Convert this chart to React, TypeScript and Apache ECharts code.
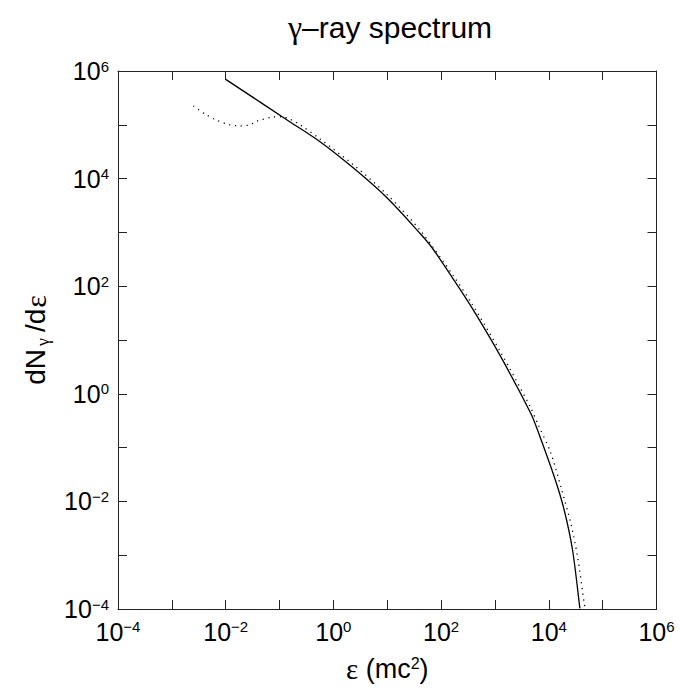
import React, { useEffect, useRef } from "react";
import * as echarts from "echarts";

// Photon energy (mc^2) and spectrum values
const solidX = [0.01, 0.138, 0.573, 2.39, 9.98, 41.6, 68.5, 173, 380, 1280, 4620, 6170, 12900, 19300, 27600, 37800, 38000];
const solidY = [7.0e5, 1.23e5, 4.79e4, 1.55e4, 4.36e3, 933, 513, 130, 38.6, 4.9, 0.435, 0.212, 0.0269, 6.92e-3, 1.25e-3, 1.03e-4, 1.0e-4];

const dottedX = [2.51e-3, 4.17e-3, 6.65e-3, 0.0112, 0.0182, 0.0282, 0.038, 0.0708, 0.111, 0.158, 0.243, 0.573, 2.39, 9.98, 41.6, 173, 380, 1280, 4620, 6170, 10900, 16700, 25600, 34200, 45400, 47800];
const dottedY = [2.24e5, 1.58e5, 1.23e5, 1.02e5, 9.55e4, 1.0e5, 1.17e5, 1.38e5, 1.41e5, 1.26e5, 1.0e5, 5.37e4, 1.78e4, 5.01e3, 1.07e3, 151, 45.7, 5.89, 0.55, 0.283, 0.0794, 0.0187, 3.92e-3, 9.38e-4, 1.28e-4, 1.0e-4];

const labeledExponents = [-4, -2, 0, 2, 4, 6];
const axisMin = 1e-4;
const axisMax = 1e6;

const SANS = "Liberation Sans, Arial, Helvetica, sans-serif";
const SERIF = "Liberation Serif, Times New Roman, serif";

function expLabel(v: number): string {
  const e = Math.round(Math.log10(v));
  if (!labeledExponents.includes(e)) return "";
  const s = e < 0 ? "\u2212" + Math.abs(e) : String(e);
  return "{b|10}{s|" + s + "}";
}

const labelRich = {
  b: { fontSize: 25, fontFamily: SANS, color: "#000" },
  s: { fontSize: 15, fontFamily: SANS, color: "#000", padding: [0, 0, 10, 0] },
};

export default function App() {
  const ref = useRef<HTMLDivElement>(null);
  useEffect(() => {
    if (!ref.current) return;
    const chart = echarts.init(ref.current, undefined, { renderer: "svg" });
    const axisLine = { show: true, lineStyle: { color: "#222", width: 1 } };
    const axisTick = { show: true, inside: true, length: 9, lineStyle: { color: "#222", width: 1 } };
    const baseAxis = {
      type: "log" as const,
      logBase: 10,
      min: axisMin,
      max: axisMax,
      interval: 1,
      splitNumber: 10,
      splitLine: { show: false },
      axisLine,
      axisTick,
    };
    chart.setOption({
      animation: false,
      backgroundColor: "#fff",
      title: {
        text: "{g|\u03b3}{t|\u2013ray spectrum}",
        left: 385,
        top: 6,
        textAlign: "center",
        textStyle: {
          fontWeight: "normal",
          rich: {
            g: { fontSize: 32, fontFamily: SERIF, fontWeight: "normal", color: "#000" },
            t: { fontSize: 30, fontFamily: SANS, fontWeight: "normal", color: "#000" },
          },
        },
      },
      grid: { left: 118, top: 71, width: 538.5, height: 538, containLabel: false },
      xAxis: [
        {
          ...baseAxis,
          position: "bottom",
          name: "{e|\u03b5}{a| (mc}{s|2}{a|)}",
          nameLocation: "middle",
          nameGap: 45,
          nameTextStyle: {
            rich: {
              e: { fontSize: 29, fontFamily: SERIF, color: "#000" },
              a: { fontSize: 27, fontFamily: SANS, color: "#000" },
              s: { fontSize: 16, fontFamily: SANS, color: "#000", padding: [0, 0, 11, 0] },
            },
          },
          axisLabel: { show: true, margin: 10, formatter: expLabel, rich: labelRich },
        },
        {
          ...baseAxis,
          position: "top",
          axisLabel: { show: false },
        },
      ],
      yAxis: [
        {
          ...baseAxis,
          position: "left",
          name: "{a|dN}{g|\u03b3}{a|/d}{e|\u03b5}",
          nameLocation: "middle",
          nameGap: 66,
          nameRotate: 90,
          nameTextStyle: {
            rich: {
              a: { fontSize: 28, fontFamily: SANS, color: "#000" },
              g: { fontSize: 18, fontFamily: SERIF, color: "#000", padding: [16, 6, 0, 3] },
              e: { fontSize: 30, fontFamily: SERIF, color: "#000", padding: [0, 0, 0, 1] },
            },
          },
          axisLabel: { show: true, margin: 9, formatter: expLabel, rich: labelRich },
        },
        {
          ...baseAxis,
          position: "right",
          axisLabel: { show: false },
        },
      ],
      series: [
        {
          type: "line",
          name: "solid",
          xAxisIndex: 0,
          yAxisIndex: 0,
          showSymbol: false,
          symbol: "none",
          smooth: 0.3,
          clip: true,
          lineStyle: { color: "#000", width: 1.3, type: "solid" },
          data: solidX.map((x, i) => [x, solidY[i]]),
        },
        {
          type: "line",
          name: "dotted",
          xAxisIndex: 0,
          yAxisIndex: 0,
          showSymbol: false,
          symbol: "none",
          smooth: 0.3,
          clip: true,
          lineStyle: { color: "#000", width: 1.3, type: [1.2, 4.6] },
          data: dottedX.map((x, i) => [x, dottedY[i]]),
        },
      ],
    });
    return () => chart.dispose();
  }, []);
  return (
    <div
      ref={ref}
      style={{ position: "absolute", left: 0, top: 0, width: 680, height: 692, background: "#fff" }}
    />
  );
}
